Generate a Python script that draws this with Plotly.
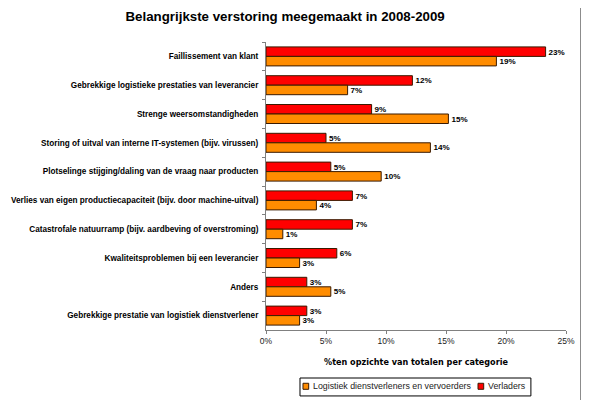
import plotly.graph_objects as go

categories = [
    "Faillissement van klant",
    "Gebrekkige logistieke prestaties van leverancier",
    "Strenge weersomstandigheden",
    "Storing of uitval van interne IT-systemen (bijv. virussen)",
    "Plotselinge stijging/daling van de vraag naar producten",
    "Verlies van eigen productiecapaciteit (bijv. door machine-uitval)",
    "Catastrofale natuurramp (bijv. aardbeving of overstroming)",
    "Kwaliteitsproblemen bij een leverancier",
    "Anders",
    "Gebrekkige prestatie van logistiek dienstverlener",
]
verladers = [0.233, 0.122, 0.088, 0.050, 0.054, 0.072, 0.072, 0.059, 0.034, 0.034]
logistiek = [0.192, 0.068, 0.152, 0.137, 0.096, 0.042, 0.014, 0.028, 0.054, 0.028]

red = "#FF0000"
orange = "#FF8C00"
edge = "#3a1a00"
lbl_font = dict(size=8.5, color="black", family="Liberation Sans", weight="bold")

fig = go.Figure()
# red first so it sits on top in each group (y axis reversed)
fig.add_trace(go.Bar(
    y=categories, x=verladers, orientation="h", name="Verladers",
    marker=dict(color=red, line=dict(color=edge, width=1)),
    texttemplate="%{x:.0%}", textposition="outside", textfont=lbl_font,
    cliponaxis=False,
))
fig.add_trace(go.Bar(
    y=categories, x=logistiek, orientation="h",
    name="Logistiek dienstverleners en vervoerders",
    marker=dict(color=orange, line=dict(color=edge, width=1)),
    texttemplate="%{x:.0%}", textposition="outside", textfont=lbl_font,
    cliponaxis=False,
))

# page body has an 8px margin, so the figure is 8px smaller than the window
fig.update_layout(
    width=581, height=392,
    margin=dict(l=258, r=23, t=34, b=70),
    paper_bgcolor="white", plot_bgcolor="white",
    font=dict(family="Liberation Sans", size=8, color="black"),
    title=dict(text="<b>Belangrijkste verstoring meegemaakt in 2008-2009</b>",
               x=0.477, xanchor="center", y=0.978, yanchor="middle",
               font=dict(size=13.3)),
    barmode="group", bargap=0.34, bargroupgap=0,
    showlegend=False,
    uniformtext=dict(minsize=8, mode="show"),
)
fig.update_xaxes(
    range=[0, 0.25], dtick=0.05, tickformat=".0%", automargin=False,
    showgrid=False, showline=True, linecolor="#808080", linewidth=1,
    ticks="outside", ticklen=3, tickcolor="#808080",
    zeroline=False, tickfont=dict(size=8.5, color="#222"),
    title=dict(text="<b>%ten opzichte van totalen per categorie</b>",
               font=dict(size=8.1, family="DejaVu Sans"), standoff=14),
)
fig.update_yaxes(
    autorange="reversed", automargin=False,
    showline=True, linecolor="#808080", linewidth=1,
    ticks="outside", ticklen=3, tickcolor="#808080", tickson="boundaries",
    showgrid=False, tickfont=dict(size=8.2, weight="bold"), ticklabelstandoff=5,
)

# legend box drawn below the axis title
fig.add_shape(type="rect", xref="paper", yref="paper", x0=0.1133, x1=0.883,
              y0=-0.229, y1=-0.1667, line=dict(color="black", width=1))
legend_items = [("Logistiek dienstverleners en vervoerders", orange, 0.1233),
                ("Verladers", red, 0.7067)]
for name, col, x0 in legend_items:
    fig.add_shape(type="rect", xref="paper", yref="paper", x0=x0, x1=x0 + 0.019,
                  y0=-0.2059, y1=-0.185, fillcolor=col,
                  line=dict(color=edge, width=1))
    fig.add_annotation(text=name, xref="paper", yref="paper", x=x0 + 0.028,
                       y=-0.1955, xanchor="left", yanchor="middle",
                       showarrow=False, font=dict(size=8.8, color="#222"))

# right frame line of the chart area (page x ~581)
fig.add_shape(type="line", xref="paper", yref="paper", x0=1.05, x1=1.05,
              y0=-0.3, y1=1.2, layer="above",
              line=dict(color="#8c8c8c", width=2))

fig.write_html("out.html")
